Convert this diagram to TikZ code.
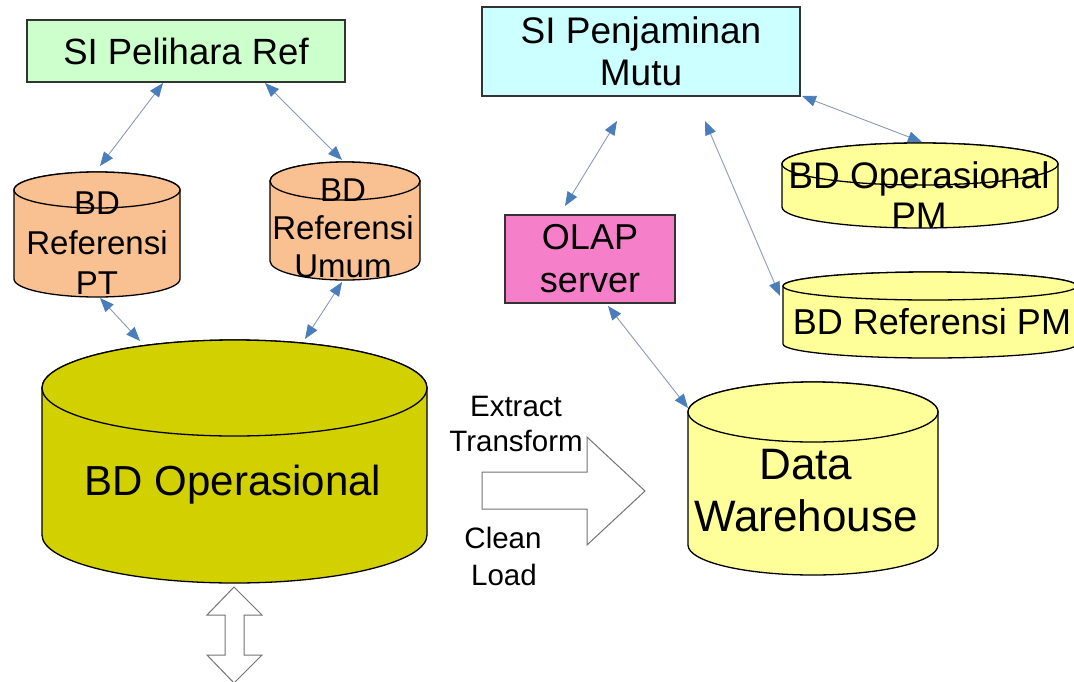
\documentclass[tikz,border=0pt]{standalone}
\usepackage{fontspec}
\setmainfont{Liberation Sans}
\usetikzlibrary{arrows.meta}
\definecolor{boxgreen}{HTML}{CCFFCC}
\definecolor{boxcyan}{HTML}{CCFFFF}
\definecolor{boxpink}{HTML}{F67FC9}
\definecolor{cylorange}{HTML}{F9C092}
\definecolor{cylolive}{HTML}{D3D000}
\definecolor{cylyellow}{HTML}{FFFF99}
\definecolor{headblue}{HTML}{4A7EBB}
\definecolor{linkgray}{HTML}{8A9AB5}
\newcommand\fsz[2]{\fontsize{#1}{#2}\selectfont}
\newcommand\mycyl[6]{% cx rx ytop ybottom ry fill
  \filldraw[fill=#6,cylline] ([xshift=-#2pt]#1,#3) -- ([xshift=-#2pt]#1,#4)
    arc[start angle=180,end angle=360,x radius=#2pt,y radius=#5pt]
    -- ([xshift=#2pt]#1,#3)
    arc[start angle=0,end angle=180,x radius=#2pt,y radius=#5pt] -- cycle;
  \filldraw[fill=#6,cylline] (#1,#3) ellipse[x radius=#2pt,y radius=#5pt];}
\begin{document}
\begin{tikzpicture}[x=1pt,y=-1pt,
  cylline/.style={draw=black,line width=1.3pt},
  boxnode/.style={draw=black!80,line width=1.3pt,inner sep=0pt,align=center},
  lbl/.style={inner sep=0pt,align=center},
  link/.style={draw=linkgray,line width=0.9pt,
    {Triangle[length=14pt,width=11pt,color=headblue]}-{Triangle[length=14pt,width=11pt,color=headblue]}},
  bigarrow/.style={draw=black!55,fill=white,line width=1pt,line join=miter}]
\useasboundingbox (0,0) rectangle (1074,681);

% boxes
\node[boxnode,fill=boxgreen,minimum width=318pt,minimum height=62pt,font=\fsz{36.5}{42}] (pel) at (186,51) {SI Pelihara Ref};
\node[boxnode,fill=boxcyan,minimum width=318pt,minimum height=89pt,font=\fsz{37}{42}] (pjm) at (641,51.5) {SI Penjaminan\\Mutu};
\node[boxnode,fill=boxpink,minimum width=170pt,minimum height=88pt,font=\fsz{36}{43}] (olap) at (590,259) {OLAP\\server};

% cylinders
\mycyl{97}{83}{190}{279}{18}{cylorange}
\node[lbl,font=\fsz{33}{40}] (refpt) at (97,243) {BD\\Referensi\\PT};
\mycyl{345}{75}{181}{261}{19}{cylorange}
\node[lbl,font=\fsz{33}{38}] (refum) at (343,228) {BD\\Referensi\\Umum};
\mycyl{920}{138}{164}{207}{21}{cylyellow}
\node[lbl,font=\fsz{37}{40}] (oppm) at (919,195) {BD Operasional\\PM};
\mycyl{930}{147}{286}{344}{14}{cylyellow}
\node[lbl,font=\fsz{36}{40}] (refpm) at (932,322) {BD Referensi PM};
\mycyl{234.5}{192.5}{388}{535}{48}{cylolive}
\node[lbl,font=\fsz{42}{48}] (bdop) at (233,485) {BD Operasional};
\mycyl{813}{125}{412}{545}{30}{cylyellow}
\node[lbl,font=\fsz{44}{52}] (dw) at (806,491) {Data\\Warehouse};

% ETL arrow
\draw[bigarrow] (482,472) -- (587,472) -- (587,437) -- (645,491) -- (587,545) -- (587,509) -- (482,509) -- cycle;
\node[lbl,font=\fsz{29.5}{35}] (ext) at (516,406) {Extract};
\node[lbl,font=\fsz{29.5}{35}] (trf) at (516,441) {Transform};
\node[lbl,font=\fsz{29.5}{35}] (cln) at (503,538) {Clean};
\node[lbl,font=\fsz{29.5}{35}] (lod) at (504,575) {Load};

% vertical double arrow
\draw[bigarrow] (234,587) -- (262,615) -- (244,615) -- (244,655) -- (262,655) -- (234,683) -- (207,655) -- (225,655) -- (225,615) -- (207,615) -- cycle;

% connector ends
\coordinate (pelA) at (163,83);  \coordinate (refptT) at (100,166);
\coordinate (pelB) at (265,83);  \coordinate (refumT) at (342,160);
\coordinate (refptB) at (100,298); \coordinate (bdopA) at (140,341);
\coordinate (refumB) at (342,282); \coordinate (bdopB) at (305,339);
\coordinate (pjmA) at (802,96);  \coordinate (oppmT) at (922,142);
\coordinate (pjmB) at (617,121); \coordinate (olapT) at (565,206);
\coordinate (pjmC) at (705,121); \coordinate (refpmT) at (780,296);
\coordinate (olapB) at (608,306); \coordinate (dwT) at (688,408);

\draw[link] (pelA) -- (refptT);
\draw[link] (pelB) -- (refumT);
\draw[link] (refptB) -- (bdopA);
\draw[link] (refumB) -- (bdopB);
\draw[link] (pjmA) -- (oppmT);
\draw[link] (pjmB) -- (olapT);
\draw[link] (pjmC) -- (refpmT);
\draw[link] (olapB) -- (dwT);
\end{tikzpicture}
\end{document}
